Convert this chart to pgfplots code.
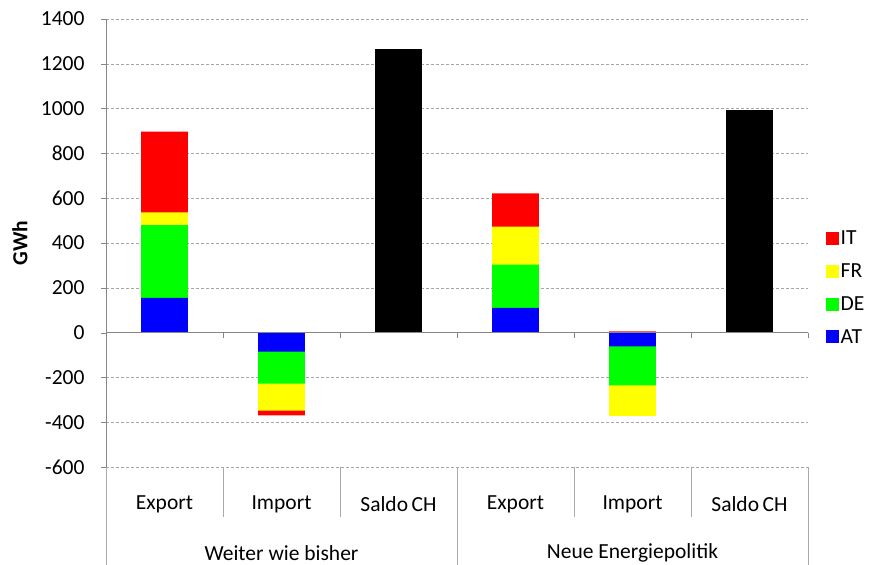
\documentclass[border=0pt]{standalone}
\usepackage{pgfplots}
\pgfplotsset{compat=1.18}
\usepackage{pgfplotstable}
\usepackage{fontspec}
\setmainfont{Carlito}

\definecolor{axgray}{HTML}{868686}
\definecolor{gridgray}{HTML}{A6A6A6}
\definecolor{cIT}{HTML}{FF0000}
\definecolor{cFR}{HTML}{FFFF00}
\definecolor{cDE}{HTML}{00FF00}
\definecolor{cAT}{HTML}{0000FF}

\newcommand\chartfont{\fontsize{21.5bp}{25bp}\selectfont}

% cumulative bar tops (GWh), positive and negative parts stacked separately
% x: 0 Export, 1 Import, 2 Saldo CH (Weiter wie bisher), 3-5 same (Neue Energiepolitik)
\pgfplotstableread{
x  itp  frp  dep  atp  itn   frn   den   atn  ch
0  897  537  480  155    0     0     0     0     0
1    0    0    0    0 -370  -348  -228   -85     0
2    0    0    0    0    0     0     0     0  1265
3  621  473  304  110    0     0     0     0     0
4    5    0    0    0    0  -372  -236   -62     0
5    0    0    0    0    0     0     0     0   993
}\flows

\begin{document}
\begin{tikzpicture}
\path[use as bounding box] (-106bp,-98bp) rectangle (765bp,467bp);
\begin{axis}[
    name=ax,
    scale only axis,
    width=702bp, height=448bp,
    xmin=-0.5, xmax=5.5,
    ymin=-600, ymax=1400,
    ytick={-600,-400,...,1400},
    xtick={0,...,5},
    xticklabels={Export,Import,Saldo\,CH,Export,Import,Saldo\,CH},
    font=\chartfont,
    tick label style={font=\chartfont},
    /pgf/number format/assume math mode=true,
    /pgf/number format/set thousands separator={},
    ymajorgrids,
    grid style={gridgray, dash pattern=on 3bp off 2bp},
    axis y line*=left,
    axis x line*=bottom,
    x axis line style={draw=none},
    y axis line style={axgray},
    x tick style={draw=none},
    y tick style={axgray},
    tick align=outside,
    major tick length=5bp,
    xticklabel style={anchor=center, yshift=-32bp},
    yticklabel style={xshift=-13bp},
    every axis y label/.style={at={(axis description cs:0,0.5)}, xshift=-86bp, rotate=90, anchor=center, font=\chartfont\bfseries},
    ylabel={GWh},
    ybar, bar shift=0pt, bar width=0.4,
    clip=false,
    area legend,
    legend image code/.code={\path[#1, draw=none] (0bp,-6.5bp) rectangle (13bp,6.5bp);},
    legend style={draw=none, at={(1.025,0.40)}, anchor=west,
        row sep=13.5bp, inner sep=0pt, font=\chartfont,
        /tikz/every even column/.append style={column sep=6bp}},
    legend cell align=left,
]
\addplot[fill=cIT, draw=none] table[x=x, y=itp] {\flows};
\addplot[fill=cIT, draw=none, forget plot] table[x=x, y=itn] {\flows};
\addplot[fill=cFR, draw=none] table[x=x, y=frp] {\flows};
\addplot[fill=cFR, draw=none, forget plot] table[x=x, y=frn] {\flows};
\addplot[fill=cDE, draw=none] table[x=x, y=dep] {\flows};
\addplot[fill=cDE, draw=none, forget plot] table[x=x, y=den] {\flows};
\addplot[fill=cAT, draw=none] table[x=x, y=atp] {\flows};
\addplot[fill=cAT, draw=none, forget plot] table[x=x, y=atn] {\flows};
\addplot[fill=black, draw=none, forget plot] table[x=x, y=ch] {\flows};
\legend{IT,FR,DE,AT}

% zero line with category ticks
\draw[axgray] (axis cs:-0.5,0) -- (axis cs:5.5,0);
\pgfplotsinvokeforeach{-0.5,0.5,1.5,2.5,3.5,4.5,5.5}{
  \draw[axgray] (axis cs:#1,0) -- ++(0pt,-5bp);
}
% category separators below the plot
\pgfplotsinvokeforeach{0.5,1.5,3.5,4.5}{
  \draw[axgray!70] (axis cs:#1,-600) -- ++(0pt,-50bp);
}
\pgfplotsinvokeforeach{-0.5,2.5,5.5}{
  \draw[axgray!70] (axis cs:#1,-600) -- ++(0pt,-98bp);
}
\node[font=\chartfont] at ([yshift=-86bp]axis cs:1,-600) {Weiter wie bisher};
\node[font=\chartfont] at ([yshift=-86bp]axis cs:4,-600) {Neue Energiepolitik};
\end{axis}
\end{tikzpicture}
\end{document}
